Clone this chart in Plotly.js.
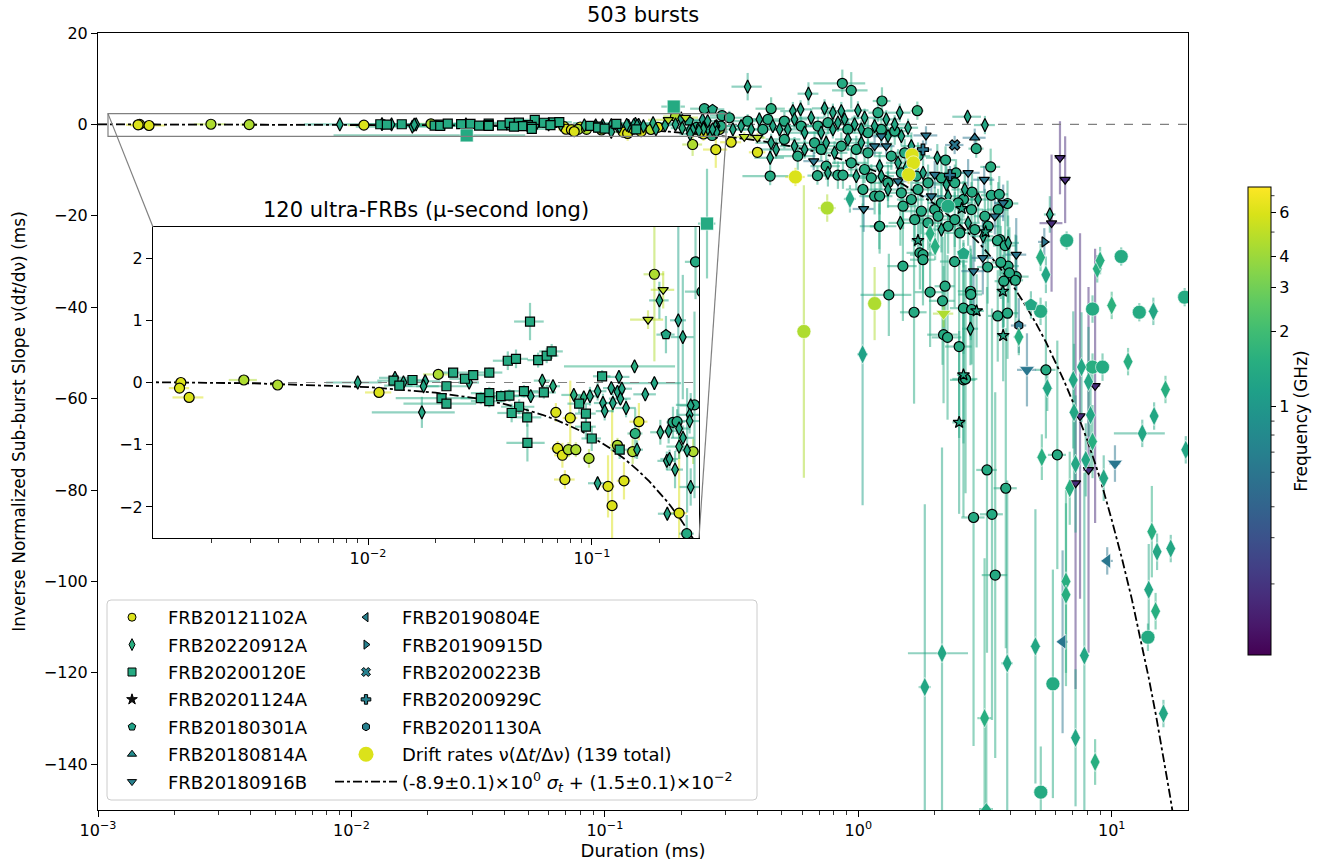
<!DOCTYPE html>
<html><head><meta charset="utf-8">
<script src="https://cdn.plot.ly/plotly-3.0.1.min.js"></script>
<style>html,body{margin:0;padding:0;background:#fff}#chart{width:1331px;height:867px}</style>
</head><body><div id="chart"></div>
<script>
// rows: [duration_ms, slope, err_duration, err_slope, freq_GHz]
const FRB20121102A = [
[0.00146,0.00,0.00008,0.03,6.0],[0.00144,-0.09,0.00015,0.05,6.0],[0.00159,-0.24,0.00025,0.04,6.0],
[0.00279,0.04,0.0004,0.03,4.5],[0.00395,-0.04,0.0003,0.03,4.5],[0.0112,-0.16,0.0015,0.03,6.0],
[0.0206,0.13,0.003,0.05,4.5],[0.0690,-0.48,0.004,0.15,6.0],[0.0800,-0.57,0.006,0.6,6.0],
[0.0703,-1.06,0.005,0.12,6.0],[0.0738,-1.17,0.006,0.2,6.0],[0.0785,-1.08,0.005,0.12,4.5],
[0.0847,-1.08,0.005,0.12,4.5],[0.0970,-1.22,0.006,0.15,4.5],[0.0757,-1.56,0.008,0.15,6.0],
[0.118,-1.67,0.008,0.5,6.0],[0.123,-1.98,0.006,1.6,6.0],[0.139,-1.58,0.01,0.3,6.0],
[0.130,-1.01,0.01,0.12,4.5],[0.156,-0.82,0.012,0.4,1.6],[0.162,-0.63,0.015,0.3,6.0],
[0.152,-1.11,0.01,0.2,4.5],[0.190,1.74,0.02,1.4,4.5],[0.230,-0.64,0.015,0.25,1.4],
[0.240,-0.63,0.02,0.2,1.4],[0.283,-1.11,0.02,0.2,4.5],[0.245,-2.10,0.02,1.5,6.0],
[0.265,-2.43,0.02,0.3,1.4],[0.290,1.94,0.03,0.6,1.4],
[0.222,-4.4,0.02,2.5,4.5],[0.274,-5.5,0.03,4.0,6.0],[0.315,-3.9,0.03,1.0,6.0],[0.400,-6.1,0.03,1.0,6.0],
[0.247,3.44,0.03,1.0,1.4],[0.453,3.44,0.06,2.5,1.5],[0.449,-11.3,0.1,2.0,1.4],[0.690,-11.2,0.06,2.0,1.4],
[0.865,9.0,0.2,3.0,1.4],[0.938,7.45,0.15,4.0,1.4],[1.24,5.12,0.1,3.0,1.5],[1.196,2.56,0.1,2.0,1.4],
[1.71,3.0,0.1,2.0,1.6],[1.21,-22.3,0.1,5.0,1.4],[2.92,-5.3,0.2,2.0,1.4],[2.21,-7.8,0.2,3.0,1.4],
[2.43,-10.6,0.25,3.0,1.4],[3.33,-9.3,0.3,4.0,1.5],[3.35,-15.5,0.3,4.0,1.4],[3.88,-17.3,0.4,5.0,1.4],
[2.81,-14.8,0.3,4.0,1.4],[2.60,-16.4,0.3,4.0,1.4],[3.60,-15.3,0.3,4.0,1.4],
[0.287,-0.36,0.05,1.5,1.4],[0.310,1.46,0.05,1.5,1.4],[0.366,0.73,0.06,1.5,1.4],[0.420,-1.09,0.07,2,1.4],
[0.440,1.10,0.08,2,1.4],[0.511,0.73,0.08,2,1.4],[0.595,-0.36,0.1,2,1.4],[0.693,-0.36,0.1,2,1.4],
[0.759,0.37,0.12,2.5,1.4],[0.910,-1.09,0.15,2.5,1.4],[1.092,-1.82,0.15,3,1.4],[1.233,-1.09,0.2,3,1.4],
[1.392,-1.46,0.2,3,1.4],[0.511,-3.28,0.08,2,1.4],[0.577,-6.94,0.1,3,1.4],[0.672,-4.02,0.1,2.5,1.4],
[0.714,-5.48,0.1,2.5,1.4],[0.857,-4.75,0.12,3,1.4],[0.982,-5.48,0.15,3,1.4],[1.092,-6.21,0.15,3,1.4],
[1.350,-6.94,0.2,3,1.4],[1.524,-6.21,0.2,3,1.4],[1.721,-6.94,0.2,3,1.4],[0.747,-9.13,0.1,3,1.4],
[0.831,-11.1,0.12,3,1.4],[0.870,-11.1,0.12,3,1.4],[0.938,-8.40,0.15,3,1.4],[1.059,-9.86,0.15,3,1.4],
[1.126,-11.69,0.15,3,1.4],[1.310,-12.78,0.2,4,1.4],[1.479,-10.59,0.2,4,1.4],[1.695,-11.32,0.2,4,1.4],
[1.885,-12.78,0.25,4,1.4],[2.128,-11.69,0.25,4,1.4],[2.403,-12.78,0.3,4,1.4],[1.043,-14.24,0.15,4,1.4],
[1.160,-15.70,0.15,4,1.4],[1.214,-15.70,0.15,4,1.4],[1.479,-14.97,0.2,4,1.4],[1.502,-17.89,0.2,5,1.4],
[1.620,-16.43,0.2,5,1.4],[1.721,-14.24,0.2,5,1.4],[1.774,-18.99,0.25,5,1.4],[2.003,-18.63,0.25,5,1.4],
[2.128,-17.16,0.25,5,1.4],[2.477,-17.16,0.3,5,1.4],[2.797,-18.63,0.3,6,1.4],[3.158,-20.09,0.3,6,1.4],
[3.565,-18.63,0.35,6,1.4],[1.214,-22.28,0.2,6,1.4],[1.670,-20.82,0.2,6,1.4],[1.885,-21.55,0.25,6,1.4],
[2.065,-20.09,0.25,6,1.4],[2.262,-22.28,0.25,6,1.4],[2.403,-20.82,0.3,6,1.4],[2.515,-23.74,0.3,7,1.4],
[2.883,-23.01,0.3,7,1.4],[3.254,-22.28,0.35,7,1.4],[3.620,-25.20,0.35,8,1.4],
[3.54,-25.4,0.4,6,1.4],[3.80,-26.5,0.4,8,1.4],[3.90,-31.0,0.4,8,1.4],[4.20,-33.3,0.5,9,1.4],
[3.88,-41.3,0.4,10,1.4],[1.32,-37.3,0.3,9,1.4],[1.50,-31.0,0.2,12,1.4],[1.66,-41.1,0.2,20,1.4],
[1.75,-28.1,0.2,8,1.4],[1.80,-28.5,0.2,8,1.4],[1.80,-29.6,0.2,10,1.4],[1.92,-36.7,0.25,12,1.4],
[2.15,-38.6,0.25,14,1.4],[2.20,-35.4,0.2,12,1.4],[2.17,-46.0,0.3,15,1.4],[2.25,-46.6,0.3,18,1.4],
[2.50,-48.6,0.3,20,1.4],[2.60,-55.9,0.3,30,1.4],[2.60,-40.2,0.3,10,1.4],[2.80,-40.5,0.3,12,1.4],
[2.77,-36.5,0.3,10,1.4],[2.78,-37.2,0.3,10,1.4],[3.22,-75.6,0.3,40,1.4],[3.82,-79.6,0.4,35,1.4],
[2.85,-86.0,0.3,50,1.4],[3.37,-85.3,0.35,45,1.4],[3.55,-41.9,0.3,10,1.4],[3.24,-31.2,0.3,8,1.4],
[3.65,-30.2,0.3,8,1.4],[3.95,-32.5,0.3,10,1.4],[4.17,-34.1,0.3,10,1.4],[3.75,-34.3,0.3,10,1.4],
[2.40,-30.0,0.3,10,1.4],[2.65,-55.7,0.3,25,1.4],[5.50,-53.7,0.5,15,1.4],[6.10,-72.3,0.5,25,1.4],
[3.47,-98.6,0.4,40,1.4]
];
const FRB20220912A = [
[0.0090,0.00,0.0025,0.05,1.3],[0.0174,-0.48,0.007,0.25,1.3],[0.0132,0.075,0.002,0.05,1.3],
[0.0144,0.00,0.002,0.05,1.3],[0.0180,0.02,0.003,0.05,1.3],[0.0177,-0.06,0.003,0.05,1.3],
[0.0283,0.00,0.003,0.05,1.3],[0.0533,-0.22,0.005,0.1,1.3],[0.060,0.03,0.005,0.1,1.5],
[0.067,-0.06,0.005,0.1,1.5],[0.083,-0.20,0.01,0.1,1.5],[0.092,-0.24,0.01,0.1,1.5],
[0.098,-0.22,0.01,0.15,1.3],[0.106,-0.14,0.01,0.15,1.3],[0.112,-0.33,0.01,0.15,1.3],
[0.114,-0.46,0.01,0.15,1.3],[0.124,-0.33,0.01,0.15,1.3],[0.122,-0.09,0.01,0.1,1.3],
[0.132,0.09,0.015,0.1,1.3],[0.130,-0.15,0.01,0.1,1.3],[0.136,-0.10,0.015,0.1,1.3],
[0.134,-0.26,0.015,0.1,1.3],[0.142,-0.41,0.015,0.15,1.3],[0.155,0.26,0.08,0.1,1.5],
[0.173,-0.19,0.02,0.1,1.3],[0.190,-0.01,0.06,0.1,1.3],[0.106,-1.62,0.01,0.1,1.3],
[0.159,-1.08,0.01,0.15,1.3],[0.200,1.32,0.02,0.3,1.3],[0.243,1.00,0.02,1.6,1.2],
[0.202,-0.80,0.02,0.2,1.5],[0.220,-0.78,0.02,0.2,1.3],[0.245,-0.74,0.03,0.2,1.3],
[0.255,-0.89,0.03,0.2,1.3],[0.245,-1.03,0.03,0.2,1.5],[0.276,-0.37,0.03,0.2,1.3],
[0.273,-0.52,0.03,0.2,1.3],[0.273,-0.62,0.03,0.2,1.3],[0.216,-1.26,0.02,0.15,1.3],
[0.222,-1.23,0.02,0.15,1.3],[0.235,-1.40,0.02,0.3,1.3],[0.276,-1.68,0.03,0.3,1.3],
[0.217,-2.11,0.02,0.1,1.3],
[0.366,8.26,0.05,3,1.3],[0.636,6.72,0.06,2.5,1.3],[2.70,1.68,0.35,1,1.3],[3.16,-0.14,0.3,2,1.3],
[0.552,2.92,0.06,2,1.3],[0.592,3.29,0.06,2,1.3],[0.736,3.51,0.08,2,1.3],[0.794,2.56,0.08,2,1.3],
[0.857,2.92,0.1,2,1.3],[0.997,3.07,0.1,2,1.3],[1.059,1.46,0.12,2,1.3],[1.290,1.10,0.15,2,1.3],
[1.457,2.56,0.15,2,1.3],[1.392,0.00,0.15,2,1.3],[1.572,-0.73,0.15,2,1.3],
[0.2545,0.73,0.03,1,1.3],[0.266,-1.09,0.03,1,1.3],[0.320,-1.09,0.04,1.5,1.3],[0.345,-0.36,0.04,1.5,1.3],
[0.378,-1.09,0.05,1.5,1.3],[0.407,1.10,0.05,1.5,1.3],[0.460,-0.36,0.06,1.5,1.3],[0.489,-1.09,0.06,2,1.3],
[0.527,-1.09,0.07,2,1.3],[0.560,1.10,0.07,2,1.3],[0.614,-1.82,0.08,2,1.3],[0.652,1.46,0.08,2,1.3],
[0.714,-1.82,0.09,2,1.3],[0.794,-1.09,0.1,2,1.3],[0.831,0.37,0.1,2,1.3],[0.883,1.10,0.1,2,1.3],
[0.967,0.00,0.12,2,1.3],[1.028,-1.09,0.12,2,1.3],[1.160,-0.36,0.15,2,1.3],[1.310,-2.56,0.15,2,1.3],
[1.479,-2.56,0.15,2,1.3],[0.453,-4.02,0.06,2,1.3],[0.474,-5.48,0.06,2,1.3],[0.560,-4.75,0.07,2,1.3],
[0.614,-5.48,0.08,2,1.3],[0.747,-4.02,0.1,2,1.3],[0.806,-6.21,0.1,2.5,1.3],[0.910,-3.28,0.1,2.5,1.3],
[1.028,-4.02,0.12,2.5,1.3],[1.435,-8.40,0.15,3,1.3],[1.620,-4.75,0.15,3,1.3],[0.449,-7.30,0.06,2,1.3],
[0.759,-10.59,0.1,3,1.3],[0.982,-11.32,0.12,3,1.3],[1.214,-9.13,0.15,3,1.3],[1.233,-11.32,0.15,3,1.3],
[1.548,-9.49,0.15,3,1.3],[1.802,-10.59,0.2,3,1.3],[2.228,-13.15,0.25,4,1.3],[1.310,-14.24,0.15,4,1.3],
[2.262,-15.70,0.25,4,1.3],[2.632,-14.24,0.3,4,1.3],[2.972,-16.43,0.3,5,1.3],[1.466,-21.55,0.15,5,1.5],
[2.128,-23.01,0.25,5,1.3],[2.713,-21.55,0.3,5,1.3],[3.110,-24.47,0.3,6,1.3],[3.904,-25.93,0.4,6,1.3],
[2.05,-7.3,0.2,3,1.3],[5.70,-19.7,0.3,4,1.3],[2.77,-44.7,0.2,8,1.3]
];
const FRB20200120E = [
[0.0130,0.03,0.002,0.05,1.4],[0.0138,-0.05,0.002,0.05,1.4],[0.0158,0.04,0.002,0.05,1.4],
[0.0224,-0.06,0.006,0.05,1.4],[0.0213,-0.25,0.008,0.06,1.4],[0.0224,-0.34,0.008,0.06,1.4],
[0.0240,0.16,0.004,0.05,1.4],[0.0271,0.06,0.004,0.06,1.4],[0.0295,0.12,0.004,0.06,1.4],
[0.0348,0.16,0.005,0.08,1.4],[0.0319,-0.25,0.006,0.1,1.4],[0.0348,-0.17,0.006,0.1,1.4],
[0.0348,-0.30,0.006,0.1,1.4],[0.0393,-0.22,0.008,0.1,1.4],[0.0428,-0.21,0.008,0.1,1.4],
[0.0421,0.35,0.006,0.15,1.4],[0.0458,0.38,0.006,0.15,1.4],[0.0529,0.98,0.008,0.3,1.4],
[0.0497,-0.14,0.008,0.1,1.4],[0.0473,-0.39,0.008,0.12,1.4],[0.0438,-0.49,0.006,0.15,1.4],
[0.0514,-0.56,0.008,0.15,1.4],[0.0515,-0.97,0.01,0.3,1.4],[0.0575,0.36,0.006,0.12,1.4],
[0.0628,0.43,0.008,0.12,1.4],[0.0661,0.50,0.008,0.12,1.4],[0.0610,-0.16,0.008,0.1,1.4],
[0.0877,-0.34,0.01,0.15,1.4],[0.0940,-0.50,0.01,0.15,1.4],[0.0940,-0.71,0.01,0.2,1.4],
[0.0998,-0.90,0.01,0.2,1.4],[0.111,0.10,0.01,0.1,1.4],[0.133,-1.08,0.012,0.15,1.4]
];
const FRB20201124A = [
[1.72,-25.4,0.1,4,1.3],[2.56,-18.4,0.15,4,1.3],[3.18,-23.5,0.2,5,1.3],[2.60,-54.8,0.15,15,1.3],
[2.50,-65.2,0.15,20,1.3],[2.93,-40.8,0.2,8,1.3],[3.73,-46.2,0.2,10,1.3],[3.72,-36.5,0.2,8,1.3]
];
const FRB20180301A = [[0.214,0.77,0.02,0.3,1.3],[0.266,3.29,0.03,1.0,1.3]];
const FRB20180814A = [[2.88,-2.92,0.3,2,0.55]];
const FRB20180916B = [
[0.208,1.49,0.025,0.3,5.0],[0.178,1.01,0.03,0.15,5.0],[0.355,-2.7,0.03,1,5.0],[0.400,-2.9,0.03,1,5.0],
[1.160,-4.75,0.1,2,0.55],[1.233,-2.56,0.1,2,0.55],[1.290,-4.75,0.1,2,0.55],[1.435,-12.42,0.15,3,0.55],
[1.943,-15.70,0.2,3,0.55],[2.003,-11.0,0.2,3,0.55],[1.85,-2.41,0.2,2,0.55],[2.713,-10.59,0.3,3,0.55],
[3.14,-12.1,0.3,3,0.55],[3.458,-20.09,0.3,4,0.55],[3.731,-17.16,0.3,4,0.55],[1.05,-18.5,0.1,5,0.55],
[0.667,-8.03,0.06,2,0.55],[2.85,-32.1,0.3,8,0.55],[3.10,-29.2,0.3,8,0.55],[4.20,-28.5,0.4,8,0.55],
[6.25,-7.3,0.3,8,0.17],[6.55,-12.1,0.3,9.5,0.17],[5.79,-21.6,0.6,15,0.17],[8.6,-57.2,0.4,30,0.17],
[8.1,-75.6,0.4,40,0.17],[7.2,-78.5,0.3,45,0.17],[7.5,-63.8,0.3,40,0.17]
];
const FRB20190804E = [];
const FRB20190915D = [[5.42,-25.7,0.3,3,0.55]];
const FRB20200223B = [[2.40,-4.5,0.2,2,0.55]];
const FRB20200929C = [[1.80,-5.5,0.15,2,0.55],[2.30,-11.1,0.2,2,0.55]];
const FRB20201130A = [[4.30,-44.0,0.3,6,0.55]];

// drift rates nu(dt/dnu), drawn with the shape of their source
const DRIFT_121102A = [
[0.565,-11.5,0.05,2,6.0],[0.754,-18.3,0.06,3,4.5],[1.63,-6.7,0.1,1.5,6.0],[1.65,-8.4,0.1,1.5,6.0],
[1.58,-11.0,0.1,2,6.0],[0.61,-45.3,0.03,32,4.5],[1.16,-39.2,0.05,8,4.5],[2.26,-17.9,0.1,3,1.4],
[6.64,-25.4,0.2,2,1.4],[10.9,-28.9,0.3,2,1.4],[19.4,-37.8,0.5,2,1.4],[12.85,-41.1,0.4,2,1.4],
[8.4,-40.4,0.3,3,1.4],[5.24,-40.9,0.3,3,1.4],[5.86,-122.4,0.3,25,1.4],[5.25,-146.1,0.3,10,1.4],
[13.9,-112.2,0.6,3,1.4],[8.4,-53.1,0.3,3,1.5],[9.2,-53.1,0.3,3,1.4]
];
const DRIFT_220912A = [
[0.927,-16.3,0.05,3,1.3],[1.92,-23.9,0.1,3,1.5],[2.01,-26.7,0.1,3,1.5],[1.04,-50.3,0.05,33,1.2],
[5.24,-29.1,0.2,3,1.5],[5.5,-32.9,0.2,4,1.3],[8.77,-31.6,0.3,3,1.5],[9.0,-29.8,0.3,3,1.5],
[10.0,-39.6,0.3,3,1.6],[14.6,-40.9,0.5,3,1.3],[4.3,-46.5,0.2,4,1.5],[5.57,-57.7,0.2,5,1.3],
[5.3,-72.8,0.2,5,1.5],[6.6,-100.0,0.2,20,1.5],[6.6,-102.9,0.2,20,1.5],[6.83,-79.6,0.2,8,1.5],
[7.05,-55.9,0.2,15,1.3],[7.1,-63.0,0.2,15,1.3],[7.2,-74.3,0.2,15,1.3],[7.6,-53.1,0.3,12,1.3],
[8.1,-56.3,0.3,12,1.3],[8.25,-63.6,0.3,12,1.3],[8.4,-69.4,0.3,8,1.5],[7.9,-73.4,0.3,8,1.3],
[9.3,-77.4,0.3,5,1.3],[11.6,-51.9,0.4,3,1.5],[16.3,-58.0,0.6,3,1.5],[14.7,-63.8,0.5,3,1.3],
[13.2,-67.6,3.0,3,1.3],[19.6,-71.2,0.5,3,1.3],[14.4,-89.1,0.5,10,1.5],[15.1,-93.5,0.5,4,1.3],
[17.1,-92.8,0.5,3,1.3],[14.0,-101.8,0.5,10,1.3],[14.9,-106.5,0.5,4,1.5],[2.14,-115.7,0.57,45,1.3],
[1.83,-123.1,0.1,40,1.3],[3.15,-129.9,0.2,35,1.5],[3.87,-117.9,0.2,40,1.3],[5.0,-114.2,0.2,30,1.3],
[7.8,-116.2,0.2,40,1.3],[7.2,-134.2,0.2,15,1.3],[8.6,-139.5,0.2,5,1.5],[16.0,-128.9,0.5,3,1.3]
];
const DRIFT_200120E = [[0.0285,-2.4,0.02,1,1.4],[0.187,3.9,0.02,1,1.4],[0.253,-21.7,0.02,12,1.4]];
const DRIFT_180301A = [[2.6,-28.3,0.15,3,1.3],[4.8,-39.5,0.3,3,1.3]];
const DRIFT_180916B = [[2.17,-41.4,0.2,3,4.5],[10.3,-74.2,0.5,4,0.55],[4.63,-53.7,0.4,8,0.55]];
const DRIFT_190804E = [[9.6,-95.5,0.5,3,0.55],[6.4,-113.2,0.3,20,0.55]];
const DRIFT_180814A = [[3.2,-149.8,0.2,20,1.4]];

// fitted line
const FIT_X = [0.001,0.003,0.01,0.02,0.03,0.04,0.05,0.06,0.07,0.08,0.09,0.1,0.12,0.14,0.16,0.18,0.2,0.22,0.25,0.28,0.3,
  0.4,0.5,0.7,1,1.2,1.5,2,2.5,3,3.5,4,4.5,5,5.5,6,6.5,7,7.5,8,8.5,9,10,11,12,13,14,15,16,17,18];
const FIT_Y = [0.006,-0.012,-0.074,-0.163,-0.252,-0.341,-0.43,-0.519,-0.608,-0.697,-0.786,-0.875,-1.053,-1.231,-1.409,-1.587,-1.765,-1.943,-2.21,-2.477,-2.655,
  -3.5,-4.4,-6.1,-8.8,-10.5,-13.1,-17.4,-21.8,-26,-30.3,-34.6,-39,-43.3,-47.6,-52,-56.2,-60.5,-64.8,-69,-73.3,-77.5,-86.5,-95.2,-103.8,-112.5,-121.1,-129.7,-138.4,-147,-155.7];

const X_TICKS = [0.001,0.01,0.1,1,10];
const X_TICKTEXT = ['10<sup>−3</sup>','10<sup>−2</sup>','10<sup>−1</sup>','10<sup>0</sup>','10<sup>1</sup>'];
const INSET_X_TICKS = [0.01,0.1];
const INSET_X_TICKTEXT = ['10<sup>−2</sup>','10<sup>−1</sup>'];
const CB_TICKS = [1,2,3,4,6];
const CB_MINOR = [7,5,0.87,0.765,0.653,0.542,0.394,0.296,0.193];

// legend entries
const LEGEND_NAMES = ['FRB20121102A','FRB20220912A','FRB20200120E','FRB20201124A','FRB20180301A','FRB20180814A','FRB20180916B',
  'FRB20190804E','FRB20190915D','FRB20200223B','FRB20200929C','FRB20201130A'];
const DRIFT_LABEL = 'Drift rates ν(Δ<i>t</i>/Δν) (139 total)';
const FIT_LABEL = '(-8.9±0.1)×10<sup>0</sup> <i>σ<sub>t</sub></i> + (1.5±0.1)×10<sup>−2</sup>';

const CMIN = -1.0, CMAX = 0.88;
const VIR = [[0,'#440154'],[0.0627,'#48186a'],[0.1255,'#472d7b'],[0.1882,'#424086'],[0.2510,'#3b528b'],
[0.3137,'#33638d'],[0.3765,'#2c728e'],[0.4392,'#26828e'],[0.5020,'#21918c'],[0.5647,'#1fa088'],
[0.6275,'#28ae80'],[0.6902,'#3fbc73'],[0.7529,'#5ec962'],[0.8157,'#84d44b'],[0.8784,'#addc30'],
[0.9412,'#d8e219'],[1,'#fde725']];
function h2r(h){return [1,3,5].map(i=>parseInt(h.substr(i,2),16));}
function vir(t){t=Math.max(0,Math.min(1,t));for(let i=1;i<VIR.length;i++){if(t<=VIR[i][0]){const a=h2r(VIR[i-1][1]),b=h2r(VIR[i][1]);const u=(t-VIR[i-1][0])/(VIR[i][0]-VIR[i-1][0]);return a.map((v,k)=>Math.round(v+(b[k]-v)*u));}}return h2r(VIR[VIR.length-1][1]);}
function rgbaF(f,a){const c=vir((Math.log10(f)-CMIN)/(CMAX-CMIN));return 'rgba('+c[0]+','+c[1]+','+c[2]+','+a+')';}

const FONT = 'DejaVu Sans';
const SOURCES = [
 {rows:FRB20121102A,sym:'circle',size:10,lf:6.0,lc:null},
 {rows:FRB20220912A,sym:'diamond-tall',size:9.5,lf:1.5,lc:null},
 {rows:FRB20200120E,sym:'square',size:9,lf:1.4,lc:null},
 {rows:FRB20201124A,sym:'star',size:9,lf:1.3,lc:'#111111'},
 {rows:FRB20180301A,sym:'pentagon',size:10,lf:1.2,lc:null},
 {rows:FRB20180814A,sym:'triangle-up',size:9,lf:0.8,lc:null},
 {rows:FRB20180916B,sym:'triangle-down',size:9,lf:0.65,lc:null},
 {rows:FRB20190804E,sym:'triangle-left',size:9,lf:0.65,lc:null},
 {rows:FRB20190915D,sym:'triangle-right',size:9,lf:0.65,lc:null},
 {rows:FRB20200223B,sym:'x',size:9,lf:0.65,lc:null},
 {rows:FRB20200929C,sym:'cross',size:9,lf:0.65,lc:null},
 {rows:FRB20201130A,sym:'hexagon',size:9,lf:0.65,lc:null}
];
const DRIFTS = [
 {rows:DRIFT_121102A,sym:'circle',size:14},{rows:DRIFT_220912A,sym:'diamond-tall',size:14},
 {rows:DRIFT_200120E,sym:'square',size:13},{rows:DRIFT_180301A,sym:'pentagon',size:14},
 {rows:DRIFT_180916B,sym:'triangle-down',size:13},{rows:DRIFT_190804E,sym:'triangle-left',size:13},
 {rows:DRIFT_180814A,sym:'triangle-up',size:13}
];
const inInset = r => r[0] < 0.32 && Math.abs(r[1]) < 3;

function errTraces(rows, xa, ya){
  const groups = {};
  rows.forEach(r => {(groups[r[4]] = groups[r[4]] || []).push(r);});
  return Object.keys(groups).map(k => {const g = groups[k], col = rgbaF(+k, 0.5); return {
    type:'scatter', mode:'markers', x:g.map(r=>r[0]), y:g.map(r=>r[1]), xaxis:xa, yaxis:ya,
    marker:{size:2, opacity:0}, showlegend:false, hoverinfo:'skip',
    error_x:{type:'data', array:g.map(r=>r[2]), color:col, thickness:2.2, width:0},
    error_y:{type:'data', array:g.map(r=>r[3]), color:col, thickness:2.2, width:0}};});
}
function mk(rows, sym, size, edge, ew){
  return {symbol:sym, size:size, color:rows.map(r=>Math.log10(r[4])), coloraxis:'coloraxis', line:{color:edge, width:ew}};
}
const pts = (rows, xa, ya, marker) => ({type:'scatter', mode:'markers', x:rows.map(r=>r[0]), y:rows.map(r=>r[1]),
  xaxis:xa, yaxis:ya, showlegend:false, marker:marker, hoverinfo:'skip'});

const traces = [];
SOURCES.forEach(s => traces.push(...errTraces(s.rows,'x','y')));
DRIFTS.forEach(d => traces.push(...errTraces(d.rows,'x','y')));
traces.push({type:'scatter', mode:'lines', x:[0.001,20], y:[0,0], xaxis:'x', yaxis:'y', line:{color:'#808080', width:1.2, dash:'dash'}, showlegend:false, hoverinfo:'skip'});
traces.push({type:'scatter', mode:'lines', x:FIT_X, y:FIT_Y, xaxis:'x', yaxis:'y', showlegend:false, line:{color:'black', width:1.8, dash:'dashdot'}, hoverinfo:'skip'});
SOURCES.forEach(s => { if (s.rows.length) traces.push(pts(s.rows,'x','y',mk(s.rows,s.sym,s.size,'black',1.2))); });
DRIFTS.forEach(d => traces.push(pts(d.rows,'x','y',mk(d.rows,d.sym,d.size,'white',0.6))));
// inset
SOURCES.forEach(s => traces.push(...errTraces(s.rows.filter(inInset),'x2','y2')));
traces.push({type:'scatter', mode:'lines', x:[0.001,0.4], y:[0,0], xaxis:'x2', yaxis:'y2', line:{color:'#808080', width:1.2, dash:'dash'}, showlegend:false, hoverinfo:'skip'});
traces.push({type:'scatter', mode:'lines', x:FIT_X, y:FIT_Y, xaxis:'x2', yaxis:'y2', showlegend:false, line:{color:'black', width:1.8, dash:'dashdot'}, hoverinfo:'skip'});
SOURCES.forEach(s => {const rr = s.rows.filter(inInset); if (rr.length) traces.push(pts(rr,'x2','y2',mk(rr,s.sym,s.size,'black',1.2)));});
// legend-only entries
SOURCES.forEach((s,i) => traces.push({type:'scatter', mode:'markers', x:[null], y:[null], xaxis:'x', yaxis:'y',
  name:LEGEND_NAMES[i], legend: i<7 ? 'legend' : 'legend2', legendgroup:'g'+i, legendrank:(i+1)*10,
  marker:{symbol:s.sym, size: s.sym==='diamond-tall' ? 8.5 : 8, color: s.lc || rgbaF(s.lf,1), line:{color:'black', width:1}}, hoverinfo:'skip'}));
traces.push({type:'scatter', mode:'markers', x:[null], y:[null], xaxis:'x', yaxis:'y', name:DRIFT_LABEL, legend:'legend2', legendgroup:'drift', legendrank:130,
  marker:{symbol:'circle', size:15, color:rgbaF(6.0,1), line:{width:0}}, hoverinfo:'skip'});
traces.push({type:'scatter', mode:'lines', x:[null], y:[null], xaxis:'x', yaxis:'y', name:FIT_LABEL, legend:'legend2', legendgroup:'fit', legendrank:140,
  line:{color:'black', width:1.8, dash:'dashdot'}, hoverinfo:'skip'});

const PX = p => (p-98)/1090, PY = p => (810-p)/777;
const minorTicks = (lo, hi) => {const out=[]; for (let k=lo;k<=hi;k++) for (let d=2;d<=9;d++) out.push(d*Math.pow(10,k)); return out;};

const axisBase = {showline:true, mirror:true, linecolor:'black', linewidth:1, ticks:'outside', ticklen:6, tickwidth:1, tickcolor:'black',
  showgrid:false, zeroline:false, tickfont:{size:16, family:FONT, color:'black'}};

const lx0 = PX(107), lx1 = PX(757), ly0 = PY(800), ly1 = PY(600), rx = 4/1090, ry = 4/777;
const legendPath = `M${lx0+rx},${ly1} L${lx1-rx},${ly1} Q${lx1},${ly1} ${lx1},${ly1-ry} L${lx1},${ly0+ry} Q${lx1},${ly0} ${lx1-rx},${ly0} L${lx0+rx},${ly0} Q${lx0},${ly0} ${lx0},${ly0+ry} L${lx0},${ly1-ry} Q${lx0},${ly1} ${lx0+rx},${ly1} Z`;

const rX0 = PX(108), rX1 = PX(726), rY0 = PY(136.4), rY1 = PY(113.6);
const iX0 = PX(153), iX1 = PX(699), iY0 = PY(538), iY1 = PY(227);

// colorbar minor tick marks (bar spans y 187..655 px, right edge 1271 px)
const cbY = v => PY(655 - (Math.log10(v)-CMIN)/(CMAX-CMIN)*468);
const cbMinorShapes = CB_MINOR.map(v => ({type:'line', xref:'paper', yref:'paper', x0:PX(1271), x1:PX(1274.5), y0:cbY(v), y1:cbY(v), line:{color:'black', width:0.8}}));

const legBase = {xanchor:'left', yanchor:'top', bgcolor:'rgba(0,0,0,0)', borderwidth:0, itemwidth:62,
  font:{size:18, family:FONT, color:'black'}, traceorder:'grouped', tracegroupgap:1, itemsizing:'trace'};

const layout = {
  width:1331, height:867, margin:{l:98, r:143, t:33, b:57}, paper_bgcolor:'white', plot_bgcolor:'white',
  font:{family:FONT, size:16, color:'black'}, showlegend:true,
  title:{text:'503 bursts', font:{size:21, family:FONT, color:'black'}, x:0.5, xref:'paper', y:1-15/867, yref:'container', yanchor:'middle'},
  xaxis:Object.assign({}, axisBase, {type:'log', range:[-3, Math.log10(20)], domain:[0,1], anchor:'y',
    tickmode:'array', tickvals:X_TICKS, ticktext:X_TICKTEXT,
    minor:{tickvals:minorTicks(-3,1).filter(v=>v<20), ticks:'outside', ticklen:3.5, tickwidth:0.8, tickcolor:'black'},
    title:{text:'Duration (ms)', font:{size:18, family:FONT, color:'black'}, standoff:5}}),
  yaxis:Object.assign({}, axisBase, {range:[-150,20], tick0:0, dtick:20, domain:[0,1], anchor:'x',
    title:{text:'Inverse Normalized Sub-burst Slope ν(d<i>t</i>/dν) (ms)', font:{size:17, family:FONT, color:'black'}, standoff:13}}),
  xaxis2:Object.assign({}, axisBase, {type:'log', range:[-2.96, -0.522], domain:[iX0, iX1], anchor:'y2',
    tickmode:'array', tickvals:INSET_X_TICKS, ticktext:INSET_X_TICKTEXT,
    minor:{tickvals:minorTicks(-3,-1).filter(v=>v<0.3), ticks:'outside', ticklen:3.5, tickwidth:0.8, tickcolor:'black'}}),
  yaxis2:Object.assign({}, axisBase, {range:[-2.5,2.5], tick0:0, dtick:1, domain:[iY0, iY1], anchor:'x2'}),
  coloraxis:{cmin:CMIN, cmax:CMAX, colorscale:'Viridis', showscale:true,
    colorbar:{x:PX(1248), xanchor:'left', y:PY(421), yanchor:'middle', len:(655-187)/777, lenmode:'fraction',
      thickness:23, thicknessmode:'pixels', xpad:0, ypad:0, outlinewidth:1, outlinecolor:'black',
      tickmode:'array', tickvals:CB_TICKS.map(Math.log10), ticktext:CB_TICKS.map(String),
      ticks:'outside', ticklen:5, tickcolor:'black', tickfont:{size:16, family:FONT, color:'black'},
      title:{text:'Frequency (GHz)', side:'right', font:{size:17, family:FONT, color:'black'}}}},
  legend:Object.assign({}, legBase, {x:PX(96), y:PY(599)}),
  legend2:Object.assign({}, legBase, {x:PX(330), y:PY(599)}),
  annotations:[{text:'120 ultra-FRBs (μ-second long)', xref:'paper', yref:'paper', x:(iX0+iX1)/2, y:PY(210),
    xanchor:'center', yanchor:'middle', showarrow:false, font:{size:21, family:FONT, color:'black'}}],
  shapes:[
    {type:'rect', xref:'paper', yref:'paper', x0:rX0, x1:rX1, y0:rY0, y1:rY1, line:{color:'#808080', width:1.2}, fillcolor:'rgba(0,0,0,0)', layer:'above'},
    {type:'line', xref:'paper', yref:'paper', x0:rX0, y0:rY1, x1:iX0, y1:iY1, line:{color:'#808080', width:1.2}, layer:'above'},
    {type:'line', xref:'paper', yref:'paper', x0:rX1, y0:rY0, x1:iX1, y1:iY0, line:{color:'#808080', width:1.2}, layer:'above'},
    {type:'path', xref:'paper', yref:'paper', path:legendPath, fillcolor:'rgba(255,255,255,0.8)', line:{color:'#cccccc', width:1}, layer:'above'}
  ].concat(cbMinorShapes)
};
Plotly.newPlot('chart', traces, layout, {displayModeBar:false, staticPlot:true}).then(gd => {
  // drop empty placeholder text nodes that Plotly leaves behind
  gd.querySelectorAll('text').forEach(t => { if (!t.textContent.trim()) t.remove(); });
});
</script></body></html>
